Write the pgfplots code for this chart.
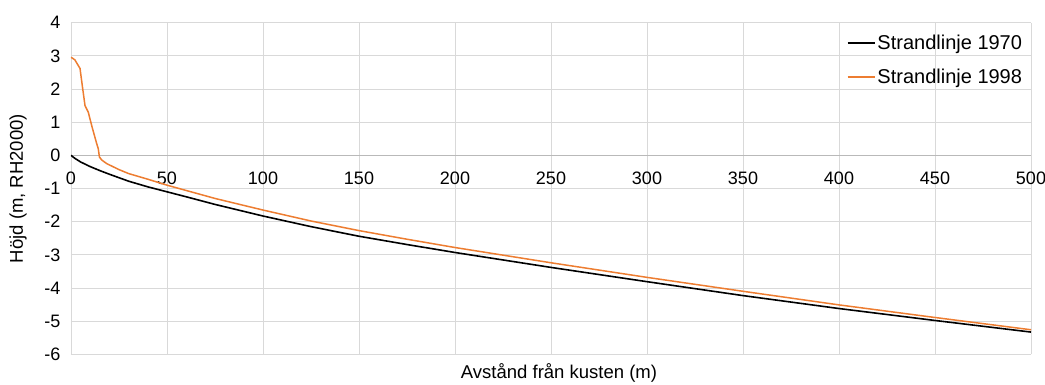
\documentclass[border=0pt]{standalone}
\usepackage{pgfplots}
\pgfplotsset{compat=1.18}
\usepackage{fontspec}
\setmainfont{Liberation Sans}
\definecolor{exorange}{HTML}{ED7D31}
\definecolor{gridgray}{HTML}{D9D9D9}
\begin{document}
\begin{tikzpicture}
\begin{axis}[
  at={(0pt,0pt)}, anchor=south west,
  scale only axis, width=960pt, height=331.6pt,
  xmin=0, xmax=500, ymin=-6, ymax=4,
  xtick={0,50,...,500}, ytick={-6,-5,...,4},
  grid=major, grid style={draw=gridgray, line width=0.9pt},
  axis line style={draw=none},
  major tick length=0pt,
  tick label style={font=\fontsize{18}{20}\selectfont},
  /pgf/number format/assume math mode=true,
  yticklabel style={xshift=-7pt},
  xticklabel style={yshift=186pt},
  xlabel={Avstånd från kusten (m)},
  ylabel={Höjd (m, RH2000)},
  label style={font=\fontsize{18.5}{20}\selectfont},
  xlabel style={at={(axis description cs:0.5,0)}, anchor=center, yshift=-19pt, xshift=8pt},
  ylabel style={at={(axis description cs:0,0.5)}, anchor=center, yshift=53pt},
  legend style={draw=none, fill=none, at={(rel axis cs:0.808,0.97)}, anchor=north west,
    font=\fontsize{20}{22}\selectfont, row sep=14pt, inner sep=0pt,
    nodes={inner sep=2pt}},
  legend cell align=left,
  legend image code/.code={\draw[#1] (0pt,0pt) -- (27pt,0pt);},
]
\draw[color=gray!55, line width=0.9pt] (axis cs:0,0) -- (axis cs:500,0);
\addplot[black, line width=1.6pt] coordinates {
(0,0) (2,-0.09) (5,-0.2) (10,-0.34) (15,-0.46) (20,-0.57) (30,-0.78) (40,-0.95) (50,-1.1)
(60,-1.25) (75,-1.48) (100,-1.83) (125,-2.15) (150,-2.44) (175,-2.69) (200,-2.93)
(250,-3.38) (300,-3.81) (350,-4.23) (400,-4.62) (450,-4.98) (500,-5.33)
};
\addlegendentry{Strandlinje 1970}
\addplot[exorange, line width=1.5pt] coordinates {
(0,2.96) (2,2.88) (4.7,2.62) (6,2.05) (7.3,1.5) (9,1.3) (11,0.85) (13.4,0.35) (14.2,0.2) (14.8,-0.05)
(16,-0.14) (18.6,-0.25) (25,-0.43) (30,-0.55) (40,-0.72) (50,-0.9)
(60,-1.06) (75,-1.3) (100,-1.65) (125,-1.98) (150,-2.27) (175,-2.53) (200,-2.78)
(250,-3.24) (300,-3.68) (350,-4.1) (400,-4.51) (450,-4.89) (500,-5.26)
};
\addlegendentry{Strandlinje 1998}
\end{axis}
\pgfresetboundingbox
\path (-71pt,-30.7pt) rectangle (974pt,354.3pt);
\end{tikzpicture}
\end{document}
